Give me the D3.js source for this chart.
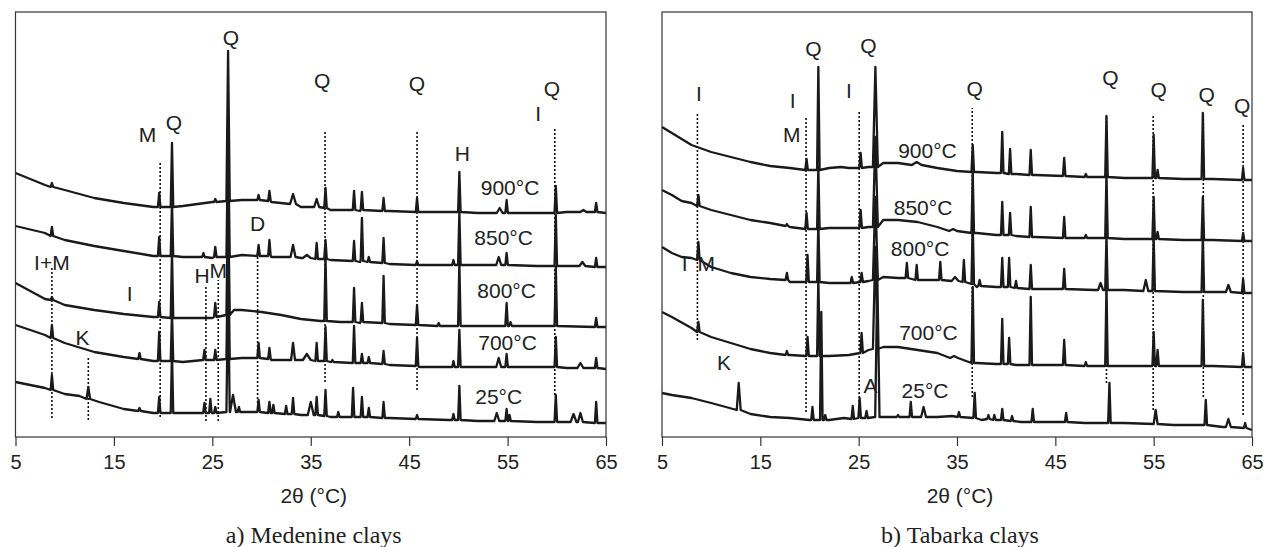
<!DOCTYPE html>
<html>
<head>
<meta charset="utf-8">
<script src="https://cdn.jsdelivr.net/npm/d3@7"></script>
<style>
  html, body { margin: 0; padding: 0; background: #fff; }
  svg { display: block; }
  .tick text { font-family: "Liberation Sans", Arial, sans-serif; font-size: 20px; fill: #222; }
</style>
</head>
<body>
<svg id="chart" width="1264" height="547"></svg>
<script>
// ---------- shared axis data ----------
const xTicks = [5, 15, 25, 35, 45, 55, 65];
const xDomain = [5, 65];
const yDomain = [0, 425];   // relative intensity (a.u.), traces stacked with offsets

// ---------- a) Medenine clays ----------
// baselines: [2θ, intensity]; peaks: [2θ, foot intensity, top intensity, half-width (°, optional)]
const medBase900 = [[5,264],[8,252],[10,247],[13,239],[16,234],[19,230],[22,231],[25,235],[28,237],[31,235],[34,230],[37,227],[40,226],[43,226],[46,225],[49,225],[52,224],[55,224],[58,224],[61,225],[65,224]];
const medPeaks900 = [[8.7,250,254],[19.6,230,244],[20.9,230,294],[25.3,235,238],[26.6,236,386,0.17],[29.7,237,242],[30.8,236,246],[33.2,233,243,0.3],[35.6,230,238,0.25],[36.5,229,249],[39.4,227,246],[40.2,227,245],[42.4,226,239],[45.8,225,239],[50.1,225,265],[54.2,224,229,0.3],[54.9,224,237],[59.9,224,251],[62.7,225,227,0.3],[64.0,225,234]];

const medBase850 = [[5,211],[8,204],[10,197],[13,191],[16,186],[19,181],[22,180],[25,179],[28,182],[31,180],[34,179],[37,177],[40,175],[43,173],[46,172],[49,172],[52,172],[55,172],[58,171],[61,171],[65,170]];
const medPeaks850 = [[8.7,201,210],[19.6,181,200],[20.9,181,235],[24.1,180,184],[25.3,180,190],[26.6,180,300,0.17],[29.7,181,192],[30.8,181,197],[33.2,180,192,0.25],[34.6,179,182,0.4],[35.6,178,194],[36.5,178,197],[39.4,176,196],[40.2,176,219],[40.9,175,180],[42.4,174,199],[45.8,172,176],[49.5,172,177],[50.1,172,225],[54.1,172,180,0.25],[54.9,172,184],[59.9,171,222],[62.6,171,175,0.3],[64.0,170,179]];

const medBase800 = [[5,154],[8,138],[10,132],[13,127],[16,123],[19,120],[22,119],[25,119],[27.2,127],[28,127],[30,125],[32,122],[34,118],[36,116],[38,115],[40,114],[43,113],[46,112],[50,111],[55,111],[60,111],[65,110]];
const medPeaks800 = [[8.7,137,140],[19.6,120,135],[20.9,119,185],[25.3,120,134],[26.6,122,240,0.17],[36.5,116,180],[39.4,115,149],[40.2,115,134],[42.4,114,161],[45.8,112,132],[48.0,111,114],[50.1,111,175],[54.9,111,134],[55.3,111,115],[59.9,111,170],[64.0,110,119]];

const medBase700 = [[5,112],[8,102],[10,94],[13,85],[16,80],[19,76],[22,75],[25,77],[28,79],[31,77],[34,77],[37,75],[40,74],[43,72],[46,70],[49,70],[52,70],[55,70],[58,70],[61,69],[65,68]];
const medPeaks700 = [[8.7,99,112],[17.6,78,84],[19.6,76,105],[20.9,76,125],[24.2,77,87],[25.3,77,87],[26.6,78,200,0.17],[29.7,79,94],[30.8,78,89],[33.2,77,94,0.2],[34.6,77,83,0.4],[35.6,76,94],[36.5,76,110],[37.2,75,77],[39.4,74,111],[40.2,74,83],[40.9,74,80],[42.4,73,86],[45.8,71,99],[49.5,70,76],[50.1,70,107],[54.1,70,79,0.25],[54.9,70,83],[59.9,70,100],[62.4,69,74,0.3],[64.0,69,79]];

const medBase25 = [[5,55],[8,49],[10,43],[11.5,41],[13.5,35],[16,28],[19,24],[22,24],[25,24],[28,25],[31,24],[34,22],[37,20],[40,20],[43,19],[46,18],[49,17],[52,16],[55,16],[58,15],[61,15],[65,14]];
const medPeaks25 = [[8.7,47,62],[12.4,38,50,0.18],[17.6,26,29],[19.6,24,40],[20.9,24,85],[24.2,24,34],[24.8,24,38],[25.3,24,30],[26.6,25,150,0.17],[27.1,25,42,0.3],[27.7,25,30],[29.7,25,37],[30.8,24,35],[31.2,24,32],[32.5,23,31],[33.2,23,39],[35.0,22,35,0.3],[35.6,22,40],[36.5,21,47],[37.8,20,25],[39.3,20,49],[40.2,20,40],[40.9,20,29],[42.4,19,35],[45.8,18,22],[49.5,17,23],[50.1,17,51],[53.9,16,24,0.25],[54.9,16,28],[55.2,16,22],[59.9,15,42],[61.7,15,23,0.3],[62.4,15,24,0.25],[64.0,14,35]];

// phase reference lines: [2θ, bottom, top]
const medRefLines = [[8.7,19,169],[12.4,17,80],[19.7,20,275],[24.35,16,152],[25.6,16,157],[29.6,34,185],[36.45,55,307],[45.8,47,307],[59.8,42,310]];
// phase labels: [text, 2θ, intensity]
const medPhaseLabels = [["Q",26.9,400],["Q",36.15,357],["Q",45.8,354],["Q",59.5,349],["I",58.1,324],["H",50.4,284],["M",18.4,303],["Q",21.1,315],["D",29.6,214],["I+M",8.7,175],["I",16.6,144],["H",23.95,162],["M",25.6,167],["K",11.8,100]];
// temperature labels: [text, 2θ, intensity]
const medTempLabels = [["900°C",55.25,250],["850°C",54.6,200],["800°C",54.9,147],["700°C",55.0,95],["25°C",54.1,41]];

// ---------- b) Tabarka clays ----------
const tabBase900 = [[5,310],[6,304],[7,298],[8,292],[10,285],[12,280],[14,275],[16,271],[18,269],[20,267],[22,269],[23.2,270],[24,269],[26,270],[27.5,274],[29,274],[31,272],[33,269],[35,266],[37,265],[39,264],[41,263],[43,262],[46,261],[49,260],[52,259],[55,259],[58,258],[61,258],[65,257]];
const tabPeaks900 = [[19.7,267,278],[20.9,267,370],[25.2,269,284],[26.7,270,370,0.25],[30.9,272,275,0.5],[36.6,265,292],[39.6,264,305],[40.4,263,288],[42.5,262,287],[45.9,261,279],[48.1,260,263],[50.2,260,321],[55.0,259,302],[55.4,259,267],[60.0,258,324],[64.1,257,269]];

const tabBase850 = [[5,247],[6,242],[7,236],[8,234],[10,227],[12,222],[14,217],[16,214],[18,210],[20,208],[22,209],[24,209],[26,210],[27.5,217],[29,217],[31,215],[33,210],[35,205],[37,204],[39,202],[41,201],[43,200],[46,199],[49,199],[52,198],[55,198],[58,197],[61,197],[65,196]];
const tabPeaks850 = [[8.7,231,242],[17.7,211,213],[19.7,208,224],[20.9,208,270],[25.2,209,227],[26.7,210,300,0.25],[34.6,206,208,0.4],[36.6,204,265],[39.6,202,235],[40.4,202,224],[42.5,200,230],[45.9,199,220],[48.1,199,202],[50.2,199,262],[55.0,198,240],[55.4,198,205],[60.0,197,240],[64.1,196,204]];

const tabBase800 = [[5,190],[6,184],[7,180],[8,179],[10,170],[12,164],[14,160],[16,158],[18,155],[20,155],[22,154],[24,154],[26,156],[27.5,160],[29,159],[31,157],[33,157],[35,155],[37,150],[39,150],[41,149],[43,148],[46,148],[49,147],[52,147],[55,146],[58,145],[61,145],[65,144]];
const tabPeaks800 = [[8.7,177,195],[17.7,157,164],[19.8,155,182],[20.9,155,215],[24.3,154,160],[25.3,155,164],[26.7,157,240,0.25],[29.9,159,174],[30.9,157,172],[33.3,157,175],[34.8,156,160,0.35],[35.7,155,177],[36.6,153,215],[37.3,151,157],[39.6,150,179],[40.3,150,179],[41.0,149,156],[42.5,148,172],[45.9,148,168],[49.6,147,154,0.25],[50.2,147,200],[54.2,146,157,0.25],[55.0,146,200],[60.0,145,200],[62.6,145,152,0.25],[64.1,144,158]];

const tabBase700 = [[5,125],[6,120],[8,109],[10,100],[12,94],[14,88],[16,84],[18,82],[20,81],[22,81],[24,82],[26,87],[27.5,90],[29,90],[31,87],[33,84],[35,79],[37,74],[39,73],[41,72],[43,72],[46,72],[49,71],[52,71],[55,71],[58,71],[61,71],[65,70]];
const tabPeaks700 = [[8.7,105,115],[17.7,82,86],[19.8,81,100],[20.9,81,160],[25.3,84,104],[26.7,88,190,0.25],[34.7,79,81,0.4],[36.6,74,150],[39.6,73,118],[40.3,73,99],[42.5,72,140],[45.9,72,97],[48.1,71,75],[50.2,71,150],[55.0,71,105],[55.4,71,87],[60.0,71,137],[64.1,70,84]];

const tabBase25 = [[5,44],[6,42],[8,39],[10,34],[11.5,30],[14,23],[16,20],[18,19],[20,17],[22,17],[23.5,19],[28,20],[29,21],[33,20],[34.5,21],[37.5,17],[41.5,15],[44,15],[48,14],[52,14],[57,12],[62,10],[65,7]];
const tabPeaks25 = [[12.8,27,54,0.2],[20.3,17,30],[21.2,17,125],[21.6,17,22],[24.4,18,31],[25.1,19,39],[25.8,19,26],[26.9,20,160,0.22],[29.0,20,22],[30.3,20,35],[31.6,20,30,0.25],[35.2,20,25],[36.8,19,44],[38.2,18,22],[38.8,17,22],[39.6,17,28],[40.6,16,21],[42.7,15,28],[46.1,15,24],[50.5,14,54],[55.2,13,27,0.2],[60.3,12,37],[62.6,10,18,0.25],[64.3,9,14]];

const tabRefLines = [[8.6,97,324],[19.65,25,320],[25.05,27,327],[36.55,40,329],[50.2,54,321],[54.95,27,323],[60.05,40,324],[64.1,22,312]];
const tabPhaseLabels = [["I",8.76,344],["I",18.3,337],["M",18.2,303],["Q",20.4,389],["I",24.0,347],["Q",26.0,392],["Q",36.8,349],["Q",50.6,360],["Q",55.5,348],["Q",60.4,343],["Q",64.0,332],["K",11.3,75],["A",26.2,52],["I",7.3,174],["M",9.5,174]];
const tabTempLabels = [["900°C",32.0,287],["850°C",31.55,230],["800°C",31.25,189],["700°C",32.1,105],["25°C",31.75,47]];

// ---------- drawing ----------
const SHARP = 0.13;   // default half-width of a diffraction peak, in degrees 2θ
const svg = d3.select("#chart");
svg.append("rect").attr("width", 1264).attr("height", 547).attr("fill", "#fff");

function tracePoints(base, peaks) {
  const pts = [];
  peaks.forEach(([t, foot, top, w = SHARP]) => {
    pts.push([t - w, foot], [t, top], [t + w, foot]);
  });
  base.forEach(p => {
    const covered = peaks.some(([t, , , w = SHARP]) => Math.abs(p[0] - t) <= w + 0.05);
    if (!covered) pts.push(p);
  });
  return pts.sort((a, b) => a[0] - b[0]);
}

function drawPanel(cfg) {
  const x = d3.scaleLinear().domain(xDomain).range([cfg.left, cfg.right]);
  const y = d3.scaleLinear().domain(yDomain).range([cfg.bottom, cfg.top]);
  const g = svg.append("g");

  // reference lines (dotted)
  g.selectAll("line.ref").data(cfg.refs).join("line")
    .attr("class", "ref")
    .attr("x1", d => x(d[0])).attr("x2", d => x(d[0]))
    .attr("y1", d => y(d[1])).attr("y2", d => y(d[2]))
    .attr("stroke", "#111").attr("stroke-width", 1.6)
    .attr("stroke-dasharray", "2,2");

  // diffraction traces
  const line = d3.line().x(d => x(d[0])).y(d => y(d[1]));
  cfg.traces.forEach(([base, peaks]) => {
    g.append("path")
      .attr("d", line(tracePoints(base, peaks)))
      .attr("fill", "none")
      .attr("stroke", "#1a1a1a")
      .attr("stroke-width", 2.3)
      .attr("stroke-linejoin", "round");
  });

  // frame
  g.append("rect")
    .attr("x", cfg.left).attr("y", cfg.top)
    .attr("width", cfg.right - cfg.left).attr("height", cfg.bottom - cfg.top)
    .attr("fill", "none").attr("stroke", "#333").attr("stroke-width", 1.2);

  // x axis
  const ax = g.append("g")
    .attr("transform", `translate(0,${cfg.bottom})`)
    .call(d3.axisBottom(x).tickValues(xTicks).tickSize(9).tickPadding(9).tickFormat(d3.format("d")));
  ax.select(".domain").remove();
  ax.selectAll(".tick line").attr("stroke", "#333").attr("stroke-width", 1.2);

  // phase labels
  g.selectAll("text.phase").data(cfg.phases).join("text")
    .attr("class", "phase")
    .attr("x", d => x(d[1])).attr("y", d => y(d[2]))
    .attr("text-anchor", "middle").attr("dominant-baseline", "central")
    .attr("font-family", "Liberation Sans, Arial, sans-serif")
    .attr("font-size", 21).attr("fill", "#222")
    .text(d => d[0]);

  // temperature labels
  g.selectAll("text.temp").data(cfg.temps).join("text")
    .attr("class", "temp")
    .attr("x", d => x(d[1])).attr("y", d => y(d[2]))
    .attr("text-anchor", "middle").attr("dominant-baseline", "central")
    .attr("font-family", "Liberation Sans, Arial, sans-serif")
    .attr("font-size", 21).attr("fill", "#222")
    .text(d => d[0]);

  const cx = (cfg.left + cfg.right) / 2;
  g.append("text")
    .attr("x", cx + 3).attr("y", 503)
    .attr("text-anchor", "middle")
    .attr("font-family", "Liberation Sans, Arial, sans-serif")
    .attr("font-size", 21).attr("fill", "#222")
    .text("2θ (°C)");

  g.append("text")
    .attr("x", cx + 3).attr("y", 543)
    .attr("text-anchor", "middle")
    .attr("font-family", "Liberation Serif, 'Times New Roman', serif")
    .attr("font-size", 24).attr("fill", "#222")
    .text(cfg.caption);
}

drawPanel({
  left: 15.5, right: 606, top: 12, bottom: 437,
  traces: [[medBase900, medPeaks900], [medBase850, medPeaks850], [medBase800, medPeaks800], [medBase700, medPeaks700], [medBase25, medPeaks25]],
  refs: medRefLines, phases: medPhaseLabels, temps: medTempLabels,
  caption: "a) Medenine clays"
});

drawPanel({
  left: 662, right: 1252, top: 12, bottom: 437,
  traces: [[tabBase900, tabPeaks900], [tabBase850, tabPeaks850], [tabBase800, tabPeaks800], [tabBase700, tabPeaks700], [tabBase25, tabPeaks25]],
  refs: tabRefLines, phases: tabPhaseLabels, temps: tabTempLabels,
  caption: "b) Tabarka clays"
});
</script>
</body>
</html>
